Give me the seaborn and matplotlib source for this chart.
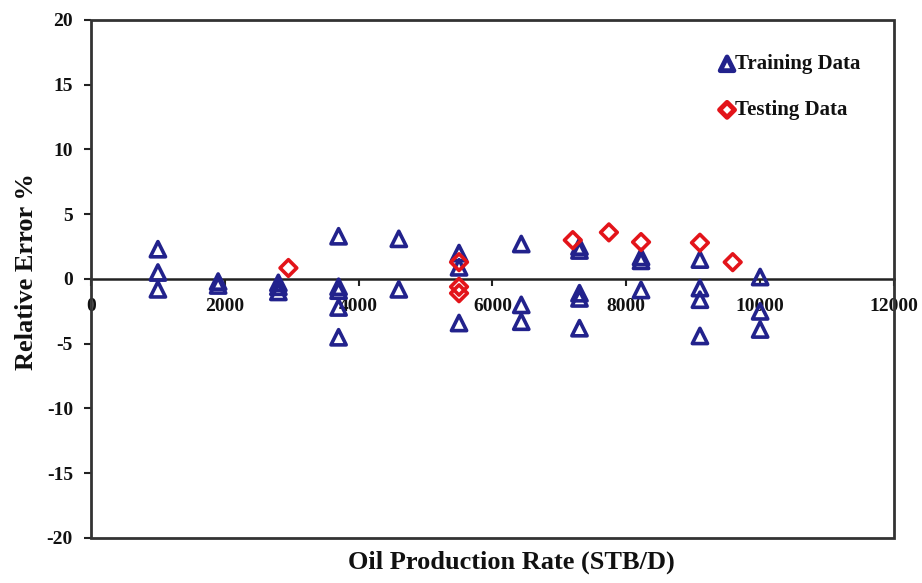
import numpy as np
import pandas as pd
import matplotlib
matplotlib.use("Agg")
import matplotlib.pyplot as plt
from matplotlib.patches import Rectangle
import seaborn as sns

# Training data: oil production rate (STB/D) and relative error (%)
train_rate = [1000, 1000, 1000,
              1900, 1900,
              2800, 2800, 2800,
              3700, 3700, 3700, 3700, 3700,
              4600, 4600,
              5500, 5500, 5500,
              6430, 6430, 6430,
              7300, 7300, 7300, 7300, 7300,
              8220, 8220, 8220,
              9100, 9100, 9100, 9100,
              10000, 10000, 10000]
train_err = [2.3, 0.5, -0.8,
             -0.2, -0.5,
             -0.3, -0.6, -1.0,
             3.3, -0.6, -0.9, -2.2, -4.5,
             3.1, -0.8,
             2.0, 0.9, -3.4,
             2.7, -2.0, -3.3,
             2.5, 2.2, -1.1, -1.5, -3.8,
             1.7, 1.4, -0.85,
             1.5, -0.7, -1.6, -4.4,
             0.15, -2.5, -3.9]

# Testing data
test_rate = [2950, 5500, 5500, 5500, 7200, 7740, 8220, 9100, 9590]
test_err = [0.85, 1.3, -0.6, -1.1, 3.0, 3.6, 2.85, 2.8, 1.3]

x_ticks = [0, 2000, 4000, 6000, 8000, 10000, 12000]
y_ticks = [-20, -15, -10, -5, 0, 5, 10, 15, 20]

train = pd.DataFrame({"rate": train_rate, "err": train_err})
test = pd.DataFrame({"rate": test_rate, "err": test_err})

sns.set_theme(style="white")
plt.rcParams["font.family"] = ["Liberation Serif", "DejaVu Serif"]
plt.rcParams["font.weight"] = "bold"

fig = plt.figure(figsize=(9.22, 5.83), dpi=100)
ax = fig.add_axes([0.0987, 0.0772, 0.9696 - 0.0987, 0.9657 - 0.0772])

# x-axis runs through zero; full frame drawn around the plot area
for side in ["top", "right", "left"]:
    ax.spines[side].set_visible(False)
ax.spines["bottom"].set_position(("data", 0))
ax.spines["bottom"].set_linewidth(1.8)
ax.spines["bottom"].set_color("#222222")
ax.add_patch(Rectangle((0, 0), 1, 1, transform=ax.transAxes, fill=False,
                       edgecolor="#333333", linewidth=2.0, clip_on=False, zorder=5))

navy = "#22228c"
red = "#e3141a"

sns.scatterplot(data=train, x="rate", y="err", ax=ax, marker="^", s=120,
                color=navy, facecolors="none", edgecolor=navy, linewidth=2.6,
                label="Training Data", zorder=3)
sns.scatterplot(data=test, x="rate", y="err", ax=ax, marker="D", s=72,
                color=red, facecolors="none", edgecolor=red, linewidth=2.6,
                label="Testing Data", zorder=4)

ax.set_xlim(0, 12000)
ax.set_ylim(-20, 20)
ax.set_xticks(x_ticks)
ax.set_yticks(y_ticks)
ax.set_xticklabels([str(v) for v in x_ticks], fontsize=14, fontweight="bold")
ax.set_yticklabels([str(v) for v in y_ticks], fontsize=14, fontweight="bold")

ax.tick_params(axis="both", direction="out", length=5, width=1.5, color="#222222",
               bottom=True, left=True, labelcolor="#111111")
ax.tick_params(axis="x", pad=9)
ax.tick_params(axis="y", pad=8)

ax.set_xlabel("")
ax.set_ylabel("")
fig.text(0.555, 0.035, "Oil Production Rate (STB/D)", ha="center", va="center",
         fontsize=19, fontweight="bold", color="#111111")
fig.text(0.029, 0.535, "Relative Error %", ha="center", va="center", rotation=90,
         fontsize=19, fontweight="bold", color="#111111")

leg = ax.legend(loc="upper right", bbox_to_anchor=(0.982, 0.97), frameon=False,
                prop={"size": 15, "weight": "bold"}, handlelength=0.6,
                handletextpad=0.1, labelspacing=1.25, markerscale=0.9)
for t in leg.get_texts():
    t.set_color("#111111")
for h in leg.legend_handles:
    h.set_linewidth(3.5)

fig.savefig("out.png", dpi=100, facecolor="white")
